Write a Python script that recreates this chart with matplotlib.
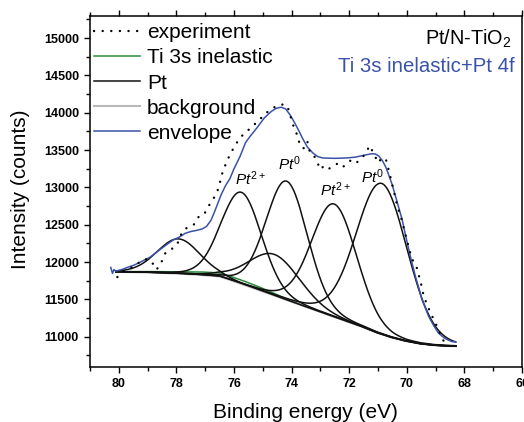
import numpy as np
import matplotlib
matplotlib.use('Agg')
import matplotlib.pyplot as plt
from matplotlib.ticker import MultipleLocator

plt.rcParams['font.family'] = ['Liberation Sans', 'DejaVu Sans']
plt.rcParams['mathtext.fontset'] = 'custom'
plt.rcParams['mathtext.rm'] = 'Liberation Sans'
plt.rcParams['mathtext.it'] = 'Liberation Sans:italic'
plt.rcParams['mathtext.bf'] = 'Liberation Sans:bold'

# ---------------- data ----------------
# experiment (binding energy eV, counts)
exp_x = [80.05, 79.85, 79.6, 79.4, 79.2, 79.0, 78.85, 78.7, 78.55, 78.45, 78.35, 78.2, 78.05, 77.92,
         77.8, 77.6, 77.4, 77.25, 77.05, 76.9, 76.75, 76.6, 76.5, 76.4, 76.25, 76.1, 75.95, 75.8,
         75.6, 75.4, 75.25, 75.1, 74.95, 74.8, 74.65, 74.5, 74.35, 74.2, 74.1, 74.0, 73.9, 73.8,
         73.7, 73.55, 73.45, 73.35, 73.2, 73.1, 73.0, 72.9, 72.8, 72.65, 72.5, 72.35, 72.2, 72.05,
         71.9, 71.75, 71.55, 71.4, 71.3, 71.15, 71.0, 70.85, 70.72, 70.6, 70.45, 70.33, 70.2, 70.1,
         70.0, 69.9, 69.8, 69.68, 69.6, 69.5, 69.42, 69.3, 69.15, 69.0, 68.9, 68.75, 68.62]
exp_y = [11800, 11880, 11920, 11960, 12030, 12040, 12000, 11900, 11960, 12080, 12140, 12170, 12200, 12280,
         12410, 12470, 12500, 12600, 12630, 12740, 12830, 12920, 13050, 13200, 13350, 13470, 13570, 13660,
         13740, 13800, 13860, 13910, 13980, 14020, 14060, 14100, 14110, 14110, 14040, 13900, 13780, 13700,
         13550, 13520, 13610, 13450, 13410, 13330, 13240, 13280, 13240, 13260, 13300, 13330, 13280, 13340,
         13370, 13330, 13400, 13470, 13560, 13460, 13330, 13400, 13370, 13190, 12950, 12750, 12600, 12450,
         12300, 12150, 12030, 11960, 11850, 11700, 11560, 11430, 11300, 11180, 11090, 10970, 10850]

# fitted envelope
env_x = [80.28, 80.22, 80.17, 80.1, 79.9, 79.7, 79.47, 79.2, 78.9, 78.6, 78.32, 78.1, 77.9, 77.7,
         77.5, 77.3, 77.1, 76.95, 76.8, 76.7, 76.6, 76.45, 76.3, 76.14, 76.0, 75.79, 75.6, 75.45,
         75.2, 74.95, 74.7, 74.53, 74.36, 74.2, 74.05, 73.9, 73.75, 73.61, 73.45, 73.27, 73.1, 72.92,
         72.5, 72.11, 71.8, 71.5, 71.25, 71.1, 70.97, 70.85, 70.74, 70.62, 70.51, 70.39, 70.28, 70.16,
         70.05, 69.93, 69.82, 69.7, 69.58, 69.47, 69.35, 69.24, 69.05, 68.9, 68.7, 68.55, 68.44, 68.3]
env_y = [11930, 11850, 11900, 11880, 11900, 11930, 11960, 12010, 12070, 12160, 12240, 12300, 12335, 12385,
         12410, 12425, 12445, 12480, 12560, 12650, 12750, 12900, 13020, 13120, 13250, 13416, 13600, 13680,
         13800, 13930, 14020, 14060, 14075, 14050, 13970, 13870, 13760, 13650, 13540, 13465, 13415, 13395,
         13390, 13395, 13405, 13430, 13450, 13450, 13420, 13360, 13282, 13160, 13040, 12880, 12730, 12568,
         12370, 12166, 11990, 11808, 11650, 11496, 11380, 11272, 11140, 11050, 10985, 10955, 10937, 10930]

# background (Shirley-like) and Ti 3s inelastic excess above it
bg_x = [80.1, 79.5, 79.0, 78.5, 78.0, 77.5, 77.0, 76.5, 76.0, 75.5, 75.0, 74.5, 74.0,
        73.5, 73.0, 72.5, 72.0, 71.5, 71.0, 70.5, 70.0, 69.5, 69.0, 68.5, 68.3]
bg_y = [11870, 11866, 11862, 11856, 11848, 11838, 11825, 11808, 11745, 11677, 11608, 11540, 11470,
        11402, 11333, 11265, 11197, 11128, 11050, 10988, 10940, 10905, 10885, 10876, 10874]
ti3s_excess = [0, 8, 12, 17, 22, 32, 42, 48, 50, 48, 40, 22, 8,
               0, 0, 0, 0, 0, 0, 0, 0, 0, 0, 0, 0]

# Pt 4f components (centre eV, height above background, FWHM eV)
pt_center = [77.93, 75.74, 74.60, 74.17, 72.52, 70.87]
pt_height = [465, 1225, 550, 1590, 1510, 2020]
pt_fwhm = [1.75, 1.65, 2.10, 1.70, 1.85, 2.10]
gl_mix = 0.1

peak_labels = [r'$\mathit{Pt}^{2+}$', r'$\mathit{Pt}^{0}$', r'$\mathit{Pt}^{2+}$', r'$\mathit{Pt}^{0}$']

# ---------------- figure ----------------
fig = plt.figure(figsize=(5.24, 4.22), dpi=100)
ax = fig.add_axes([90 / 524, 55.3 / 422, 432 / 524, 351 / 422])

xg = np.linspace(68.3, 80.1, 700)
bgx_inc = np.array(bg_x)[::-1]
bg_g = np.interp(xg, bgx_inc, np.array(bg_y)[::-1])
ti_g = np.interp(xg, bgx_inc, np.array(ti3s_excess)[::-1])


def pv(x, c, h, w):
    d2 = ((x - c) / w) ** 2
    return h * ((1 - gl_mix) * np.exp(-4 * np.log(2) * d2) + gl_mix / (1 + 4 * d2))


peaks = [pv(xg, c, h, w) for c, h, w in zip(pt_center, pt_height, pt_fwhm)]

black = '#111111'
blue = '#3a52a8'
green = '#2a8a3c'
gray = '#b8b8b8'

ax.plot(exp_x, exp_y, color='black', lw=1.7, linestyle=(0, (0.05, 3.6)),
        dash_capstyle='round', label='experiment', zorder=6)
ax.plot(xg, bg_g + ti_g, color=green, lw=1.1, label='Ti 3s inelastic', zorder=2)
for i, p in enumerate(peaks):
    ax.plot(xg, bg_g + p, color=black, lw=1.1, label='Pt' if i == 0 else None, zorder=3)
ax.plot(xg, bg_g, color=gray, lw=1.5, label='background', zorder=2.5)
ax.plot(env_x, env_y, color=blue, lw=1.1, label='envelope', zorder=5)

# legend in the reference order
h, l = ax.get_legend_handles_labels()
order = ['experiment', 'Ti 3s inelastic', 'Pt', 'background', 'envelope']
hh = [h[l.index(o)] for o in order]
ax.legend(hh, order, loc='upper left', bbox_to_anchor=(0.01, 0.978), frameon=False,
          fontsize=15, borderpad=0, borderaxespad=0, handlelength=2.2,
          handletextpad=0.33, labelspacing=0.29)

label_pos = [(75.97, 13037), (74.47, 13238), (73.03, 12880), (71.6, 13060)]
for (lx, ly), txt in zip(label_pos, peak_labels):
    ax.text(lx, ly, txt, fontsize=11, ha='left', va='baseline')

ax.text(0.977, 0.9165, r'Pt/N-TiO$_\mathregular{2}$', transform=ax.transAxes,
        fontsize=14.3, ha='right', va='baseline')
ax.text(0.984, 0.8405, 'Ti 3s inelastic+Pt 4f', transform=ax.transAxes,
        fontsize=14.7, ha='right', va='baseline', color=blue)

ax.set_xlim(81, 66)
ax.set_ylim(10600, 15300)
ax.xaxis.set_major_locator(MultipleLocator(2))
ax.xaxis.set_minor_locator(MultipleLocator(1))
ax.yaxis.set_major_locator(MultipleLocator(500))
ax.yaxis.set_minor_locator(MultipleLocator(250))
ax.tick_params(axis='both', which='both', direction='out', top=True, right=False,
               width=1.0, labelsize=9)
ax.tick_params(which='major', length=4.5)
ax.tick_params(which='minor', length=3)
ax.tick_params(axis='x', which='both', top=True, labeltop=False)
for lab in ax.get_xticklabels() + ax.get_yticklabels():
    lab.set_fontweight('bold')
for s in ax.spines.values():
    s.set_linewidth(1.1)

ax.set_xlabel('Binding energy (eV)', fontsize=15, va='baseline')
ax.xaxis.set_label_coords(0.499, -0.145)
ax.set_ylabel('Intensity (counts)', fontsize=15)
ax.yaxis.set_label_coords(-0.138, 0.505)

fig.savefig('out.png', dpi=100)
